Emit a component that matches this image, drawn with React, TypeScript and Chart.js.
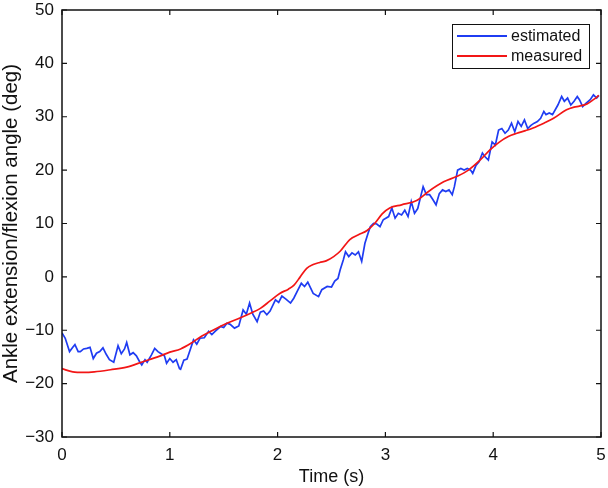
import React, { useEffect, useRef } from "react";
import { Chart, registerables } from "chart.js";

Chart.register(...registerables);

// estimated (blue) — time (s) and angle (deg)
const estTime = [
  0.00, 0.03, 0.07, 0.10, 0.12, 0.15, 0.17, 0.20, 0.23, 0.26, 0.29, 0.32, 0.35, 0.38, 0.41, 0.44, 0.48,
  0.52, 0.55, 0.58, 0.60, 0.63, 0.66, 0.69, 0.72, 0.74, 0.77, 0.79, 0.83, 0.86, 0.89, 0.92, 0.95, 0.97,
  1.00, 1.03, 1.06, 1.09, 1.10, 1.13, 1.16, 1.19, 1.22, 1.25, 1.28, 1.32, 1.36, 1.39, 1.42, 1.47, 1.50,
  1.53, 1.56, 1.60, 1.64, 1.68, 1.71, 1.74, 1.77, 1.81, 1.84, 1.87, 1.90, 1.93, 1.98, 2.01, 2.04, 2.08,
  2.12, 2.15, 2.19, 2.22, 2.25, 2.28, 2.33, 2.38, 2.41, 2.46, 2.50, 2.53, 2.56, 2.58, 2.61, 2.63, 2.66,
  2.69, 2.72, 2.75, 2.78, 2.81, 2.84, 2.86, 2.89, 2.92, 2.95, 2.98, 3.03, 3.06, 3.09, 3.12, 3.15, 3.18,
  3.21, 3.24, 3.27, 3.30, 3.35, 3.38, 3.41, 3.44, 3.47, 3.50, 3.53, 3.56, 3.59, 3.62, 3.64, 3.67, 3.70,
  3.73, 3.76, 3.79, 3.81, 3.84, 3.87, 3.90, 3.92, 3.955, 3.99, 4.02, 4.05, 4.08, 4.11, 4.14, 4.17, 4.20,
  4.23, 4.26, 4.29, 4.32, 4.35, 4.38, 4.41, 4.44, 4.47, 4.49, 4.52, 4.55, 4.60, 4.635, 4.66, 4.69, 4.72,
  4.75, 4.78, 4.80, 4.83, 4.86, 4.90, 4.93, 4.96, 4.98,
];
const estAngle = [
  -10.5, -11.5, -14.0, -13.2, -12.7, -14.0, -14.0, -13.5, -13.4, -13.2, -15.3, -14.3, -14.0, -13.3, -14.5, -15.5, -16.0,
  -12.9, -14.4, -13.5, -12.3, -14.6, -14.2, -14.8, -15.9, -16.5, -15.5, -16.0, -14.6, -13.4, -14.0, -14.4, -14.8, -16.2,
  -15.3, -16.0, -15.5, -17.2, -17.3, -15.6, -15.4, -13.6, -11.8, -12.6, -11.5, -11.4, -10.2, -10.8, -10.2, -9.3, -9.5,
  -8.7, -8.9, -9.6, -9.2, -6.2, -7.0, -4.9, -7.0, -8.4, -6.6, -6.4, -7.1, -6.4, -4.3, -4.8, -3.6, -4.2,
  -4.9, -4.0, -2.4, -1.2, -1.8, -1.0, -3.1, -3.7, -2.4, -1.8, -1.9, -0.8, -0.3, 1.3, 3.2, 4.7, 3.8,
  4.5, 4.1, 4.7, 2.9, 6.3, 8.2, 9.4, 10.0, 9.9, 9.4, 10.7, 11.3, 12.9, 11.0, 11.9, 11.6, 12.5,
  11.3, 14.1, 11.9, 12.8, 16.9, 15.4, 15.4, 14.5, 13.5, 15.6, 16.3, 16.0, 16.3, 15.4, 16.9, 20.0, 20.3,
  20.0, 20.3, 20.0, 19.4, 20.9, 21.6, 23.2, 22.6, 21.9, 25.3, 24.7, 27.5, 27.8, 26.9, 27.5, 28.8, 27.2,
  29.1, 28.2, 29.4, 27.8, 28.4, 28.8, 29.1, 29.7, 31.0, 30.4, 30.7, 30.4, 32.2, 33.8, 32.9, 33.5, 32.2,
  32.9, 33.8, 33.2, 31.9, 32.5, 33.2, 34.1, 33.5, 34.0,
];

// measured (red)
const measTime = [
  0, 0.1, 0.2, 0.3, 0.45, 0.6, 0.75, 0.9, 1.0, 1.1, 1.2, 1.28, 1.4, 1.53, 1.65, 1.75, 1.84, 1.93, 2.02,
  2.1, 2.15, 2.21, 2.27, 2.33, 2.39, 2.45, 2.52, 2.58, 2.67, 2.75, 2.83, 2.9, 2.97, 3.04, 3.15, 3.29,
  3.4, 3.54, 3.66, 3.77, 3.88, 3.97, 4.06, 4.14, 4.22, 4.3, 4.37, 4.47, 4.56, 4.68, 4.75, 4.8, 4.87,
  4.93, 4.98,
];
const measAngle = [
  -17.2, -17.8, -17.9, -17.8, -17.4, -16.9, -15.9, -14.9, -14.1, -13.5, -12.4, -11.3, -10.0, -8.7, -7.7, -6.8, -5.9, -4.5, -3.1,
  -2.3, -1.6, 0.0, 1.6, 2.3, 2.7, 3.0, 3.8, 4.8, 7.0, 7.9, 8.7, 10.0, 11.8, 12.9, 13.5, 14.3,
  16.0, 17.8, 18.8, 20.0, 21.9, 23.8, 25.3, 26.3, 26.9, 27.4, 27.9, 28.8, 29.7, 31.3, 31.8, 32.0, 32.4,
  33.2, 34.0,
];

const seriesNames = ["estimated", "measured"];
const seriesColors = ["#1f3cf2", "#f21616"];
const xTicks = [0, 1, 2, 3, 4, 5];
const yTicks = [-30, -20, -10, 0, 10, 20, 30, 40, 50];
const xTitle = "Time (s)";
const yTitle = "Ankle extension/flexion angle (deg)";

const FONT = "'Liberation Sans', Arial, sans-serif";

const framePlugin = {
  id: "frameTicksLegend",
  afterDatasetsDraw(chart: any) {
    const { ctx, chartArea } = chart;
    const { left, right, top, bottom } = chartArea;
    const xs = chart.scales.x;
    const ys = chart.scales.y;
    ctx.save();
    ctx.strokeStyle = "#111";
    ctx.lineWidth = 1.5;
    ctx.strokeRect(left, top, right - left, bottom - top);
    ctx.lineWidth = 1.2;
    const tl = 5;
    ctx.beginPath();
    xTicks.forEach((v) => {
      const px = xs.getPixelForValue(v);
      ctx.moveTo(px, bottom);
      ctx.lineTo(px, bottom - tl);
      ctx.moveTo(px, top);
      ctx.lineTo(px, top + tl);
    });
    yTicks.forEach((v) => {
      const py = ys.getPixelForValue(v);
      ctx.moveTo(left, py);
      ctx.lineTo(left + tl, py);
      ctx.moveTo(right, py);
      ctx.lineTo(right - tl, py);
    });
    ctx.stroke();

    // y-axis title
    ctx.save();
    ctx.translate(11, (top + bottom) / 2);
    ctx.rotate(-Math.PI / 2);
    ctx.font = `20.5px ${FONT}`;
    ctx.fillStyle = "#111";
    ctx.textAlign = "center";
    ctx.textBaseline = "middle";
    ctx.fillText(yTitle, 0, 0);
    ctx.restore();

    // legend
    const bx = 452, by = 24, bw = 137, bh = 44;
    ctx.fillStyle = "#fff";
    ctx.fillRect(bx, by, bw, bh);
    ctx.strokeStyle = "#111";
    ctx.lineWidth = 1;
    ctx.strokeRect(bx + 0.5, by + 0.5, bw, bh);
    ctx.font = `16px ${FONT}`;
    ctx.textBaseline = "middle";
    ctx.textAlign = "left";
    seriesNames.forEach((name, i) => {
      const y = by + 12 + i * 20;
      ctx.strokeStyle = seriesColors[i];
      ctx.lineWidth = 1.8;
      ctx.beginPath();
      ctx.moveTo(bx + 5, y);
      ctx.lineTo(bx + 55, y);
      ctx.stroke();
      ctx.fillStyle = "#111";
      ctx.fillText(name, bx + 59, y + 1);
    });
    ctx.restore();
  },
};

export default function App() {
  const ref = useRef<HTMLCanvasElement>(null);
  useEffect(() => {
    if (!ref.current) return;
    const minus = (v: any) => String(v).replace("-", "\u2212");
    const chart = new Chart(ref.current, {
      type: "line",
      data: {
        datasets: [
          {
            label: seriesNames[0],
            data: estTime.map((t, i) => ({ x: t, y: estAngle[i] })),
            borderColor: seriesColors[0],
            borderWidth: 1.7,
            pointRadius: 0,
            tension: 0,
            order: 2,
          },
          {
            label: seriesNames[1],
            data: measTime.map((t, i) => ({ x: t, y: measAngle[i] })),
            borderColor: seriesColors[1],
            borderWidth: 1.7,
            pointRadius: 0,
            cubicInterpolationMode: "monotone",
            order: 1,
          },
        ],
      },
      options: {
        responsive: false,
        animation: false,
        devicePixelRatio: 1,
        layout: { padding: { top: 10, right: 7, left: 0, bottom: 0 } },
        plugins: { legend: { display: false }, tooltip: { enabled: false } },
        scales: {
          x: {
            type: "linear",
            min: 0,
            max: 5,
            afterFit: (s: any) => { s.height = 51; s.paddingLeft = 0; s.paddingRight = 0; },
            afterBuildTicks: (s: any) => { s.ticks = xTicks.map((v) => ({ value: v })); },
            grid: { display: false, drawTicks: false },
            border: { display: false },
            ticks: { color: "#111", font: { family: FONT, size: 17 }, padding: 8, callback: minus, maxRotation: 0 },
            title: { display: true, text: xTitle, color: "#111", font: { family: FONT, size: 18 }, padding: { top: 0, bottom: 0 } },
          },
          y: {
            type: "linear",
            min: -30,
            max: 50,
            afterFit: (s: any) => { s.width = 62; s.paddingTop = 0; s.paddingBottom = 0; },
            afterBuildTicks: (s: any) => { s.ticks = yTicks.map((v) => ({ value: v })); },
            grid: { display: false, drawTicks: false },
            border: { display: false },
            ticks: { color: "#111", font: { family: FONT, size: 17 }, padding: 8, callback: minus },
            title: { display: false },
          },
        },
      },
      plugins: [framePlugin],
    } as any);
    return () => chart.destroy();
  }, []);
  return (
    <div style={{ position: "fixed", left: 0, top: 0, width: 608, height: 488, background: "#fff" }}>
      <canvas ref={ref} width={608} height={488} />
    </div>
  );
}
